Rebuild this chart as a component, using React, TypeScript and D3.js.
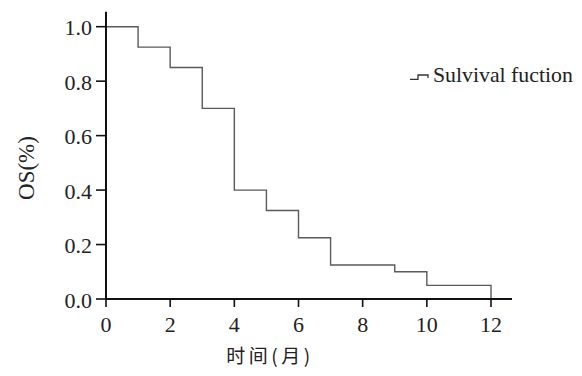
import React from "react";
import * as d3 from "d3";

const times = [0, 1, 2, 3, 4, 5, 6, 7, 9, 10, 12];
const survival = [1.0, 0.925, 0.85, 0.7, 0.4, 0.325, 0.225, 0.125, 0.1, 0.05, 0.0];
const xTicks = [0, 2, 4, 6, 8, 10, 12];
const yTicks = [0, 0.2, 0.4, 0.6, 0.8, 1.0];
const legendLabel = "Sulvival fuction";
const xTitle = "时间(月)";
const yTitle = "OS(%)";

const W = 582;
const H = 376;
const serif = "'Liberation Serif', 'Times New Roman', serif";

export default function App() {
  const x = d3.scaleLinear().domain([0, 12]).range([106, 491]);
  const y = d3.scaleLinear().domain([0, 1]).range([299, 26.7]);
  const pts: [number, number][] = times.map((t, i) => [t, survival[i]]);
  const line = d3
    .line<[number, number]>()
    .x((d) => x(d[0]))
    .y((d) => y(d[1]))
    .curve(d3.curveStepAfter);
  const x0 = x(0);
  const y0 = y(0);
  return (
    <svg
      width={W}
      height={H}
      style={{ position: "absolute", left: 0, top: 0, background: "#fff" }}
    >
      <path d={line(pts) || ""} fill="none" stroke="#5a5a5a" strokeWidth={1.4} />
      {/* axes */}
      <line x1={x0} x2={x0} y1={11.7} y2={y0} stroke="#111" strokeWidth={2} />
      <line x1={x0} x2={512} y1={y0} y2={y0} stroke="#111" strokeWidth={2} />
      {yTicks.map((v) => (
        <g key={"y" + v}>
          <line x1={x0 - 10} x2={x0} y1={y(v)} y2={y(v)} stroke="#111" strokeWidth={1.6} />
          <text
            x={x0 - 14}
            y={y(v) + 8.5}
            textAnchor="end"
            fontFamily={serif}
            fontSize={22}
            fill="#222"
          >
            {v.toFixed(1)}
          </text>
        </g>
      ))}
      {xTicks.map((v) => (
        <g key={"x" + v}>
          <line x1={x(v)} x2={x(v)} y1={y0} y2={y0 + 8} stroke="#111" strokeWidth={1.6} />
          <text
            x={x(v)}
            y={y0 + 33}
            textAnchor="middle"
            fontFamily={serif}
            fontSize={22}
            fill="#222"
          >
            {v}
          </text>
        </g>
      ))}
      <text
        transform={`translate(34,168) rotate(-90)`}
        textAnchor="middle"
        fontFamily={serif}
        fontSize={23}
        fill="#222"
      >
        {yTitle}
      </text>
      <text
        x={270}
        y={363}
        textAnchor="middle"
        fontFamily="'Noto Sans CJK SC', sans-serif"
        fontSize={19}
        letterSpacing={3.5}
        fill="#222"
      >
        {xTitle}
      </text>
      {/* legend */}
      <path
        d="M410,79.3 L418,79.3 L418,75 L428,75 L428,78"
        fill="none"
        stroke="#333"
        strokeWidth={1.3}
      />
      <text x={433} y={82.3} fontFamily={serif} fontSize={21.8} fill="#222">
        {legendLabel}
      </text>
    </svg>
  );
}
